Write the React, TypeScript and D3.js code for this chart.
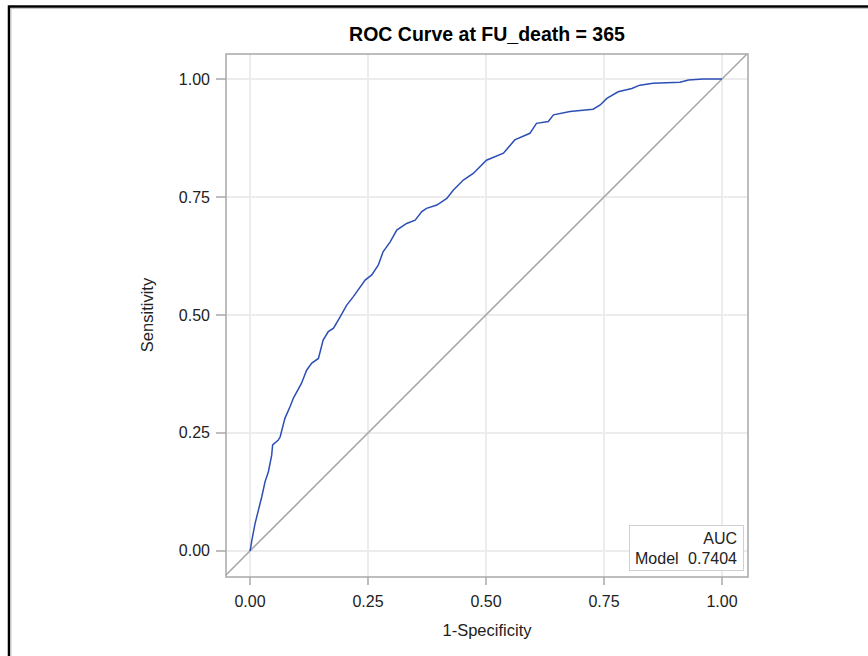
import React from "react";
import * as d3 from "d3";

const fpr = [0, 0.002, 0.004, 0.011, 0.018, 0.025, 0.032, 0.039, 0.046, 0.048, 0.06, 0.064, 0.074, 0.085, 0.092, 0.109, 0.12, 0.131, 0.145, 0.155, 0.166, 0.177, 0.191, 0.205, 0.219, 0.244, 0.258, 0.272, 0.282, 0.297, 0.311, 0.332, 0.35, 0.364, 0.374, 0.396, 0.417, 0.431, 0.452, 0.473, 0.501, 0.537, 0.561, 0.593, 0.607, 0.632, 0.643, 0.678, 0.727, 0.742, 0.756, 0.78, 0.809, 0.826, 0.854, 0.911, 0.929, 0.96, 1.0];
const tpr = [0, 0.01, 0.023, 0.059, 0.087, 0.115, 0.147, 0.168, 0.203, 0.225, 0.235, 0.242, 0.281, 0.306, 0.324, 0.355, 0.383, 0.398, 0.408, 0.447, 0.465, 0.472, 0.496, 0.521, 0.539, 0.574, 0.585, 0.606, 0.634, 0.655, 0.68, 0.694, 0.701, 0.719, 0.726, 0.733, 0.747, 0.765, 0.786, 0.8, 0.828, 0.843, 0.871, 0.885, 0.906, 0.91, 0.924, 0.931, 0.936, 0.945, 0.959, 0.973, 0.98, 0.987, 0.991, 0.993, 0.998, 1.0, 1.0];
const ticks = [0, 0.25, 0.5, 0.75, 1];
const tickLabels = ["0.00", "0.25", "0.50", "0.75", "1.00"];
const title = "ROC Curve at FU_death = 365";
const xLabel = "1-Specificity";
const yLabel = "Sensitivity";
const aucLabel = "AUC";
const modelName = "Model";
const aucValue = "0.7404";

const W = 868, H = 656;
const FONT = "'Liberation Sans', Arial, sans-serif";

export default function App() {
  const x = d3.scaleLinear().domain([-0.0508, 1.0551]).range([226, 748]);
  const y = d3.scaleLinear().domain([-0.0551, 1.053]).range([577, 54]);
  const pts: [number, number][] = fpr.map((f, i) => [f, tpr[i]]);
  const line = d3.line<[number, number]>().x(d => x(d[0])).y(d => y(d[1]));
  const [x0, x1] = x.domain();
  const [y0, y1] = y.domain();
  const lo = Math.max(x0, y0), hi = Math.min(x1, y1);
  return (
    <svg width={W} height={H} style={{ position: "absolute", left: 0, top: 0, background: "#fff" }} fontFamily={FONT}>
      <rect x={0} y={0} width={W} height={H} fill="#fff" />
      {/* outer frame */}
      <path d={`M9,${H} V6.5 H${W}`} fill="none" stroke="#000" strokeWidth={2.5} />
      <path d={`M11,${H} V8.5 H${W}`} fill="none" stroke="#c8c8c8" strokeWidth={1} />
      {/* gridlines */}
      {ticks.map((t, i) => (
        <g key={"g" + i}>
          <line x1={x(t)} x2={x(t)} y1={y(y1)} y2={y(y0)} stroke="#ececec" strokeWidth={2} />
          <line x1={x(x0)} x2={x(x1)} y1={y(t)} y2={y(t)} stroke="#ececec" strokeWidth={2} />
        </g>
      ))}
      {/* diagonal */}
      <line x1={x(lo)} y1={y(lo)} x2={x(hi)} y2={y(hi)} stroke="#a8a8a8" strokeWidth={1.6} />
      {/* curve */}
      <path d={line(pts) || ""} fill="none" stroke="#2c4fb6" strokeWidth={1.5} />
      {/* legend */}
      <rect x={629.5} y={525.5} width={114} height={45} fill="#fff" stroke="#d0d0d0" strokeWidth={1} />
      <text x={737} y={544} fontSize={16} textAnchor="end" fill="#222">{aucLabel}</text>
      <text x={635} y={564} fontSize={16} fill="#222">{modelName}</text>
      <text x={737} y={564} fontSize={16} textAnchor="end" fill="#222">{aucValue}</text>
      {/* frame */}
      <rect x={226} y={54} width={522} height={523} fill="none" stroke="#a8a8a8" strokeWidth={1.5} />
      {/* y ticks */}
      {ticks.map((t, i) => (
        <g key={"y" + i}>
          <line x1={216} x2={226} y1={y(t)} y2={y(t)} stroke="#a8a8a8" strokeWidth={1.5} />
          <text x={210} y={y(t) + 5.5} fontSize={16} textAnchor="end" fill="#222">{tickLabels[i]}</text>
        </g>
      ))}
      {/* x ticks */}
      {ticks.map((t, i) => (
        <g key={"x" + i}>
          <line x1={x(t)} x2={x(t)} y1={577} y2={585} stroke="#a8a8a8" strokeWidth={1.5} />
          <text x={x(t)} y={607} fontSize={16} textAnchor="middle" fill="#222">{tickLabels[i]}</text>
        </g>
      ))}
      <text x={487} y={636} fontSize={16.5} textAnchor="middle" fill="#222">{xLabel}</text>
      <text transform="translate(153,315) rotate(-90)" fontSize={16.5} textAnchor="middle" fill="#222">{yLabel}</text>
      <text x={487} y={41} fontSize={19.5} fontWeight="bold" textAnchor="middle" fill="#000">{title}</text>
    </svg>
  );
}
